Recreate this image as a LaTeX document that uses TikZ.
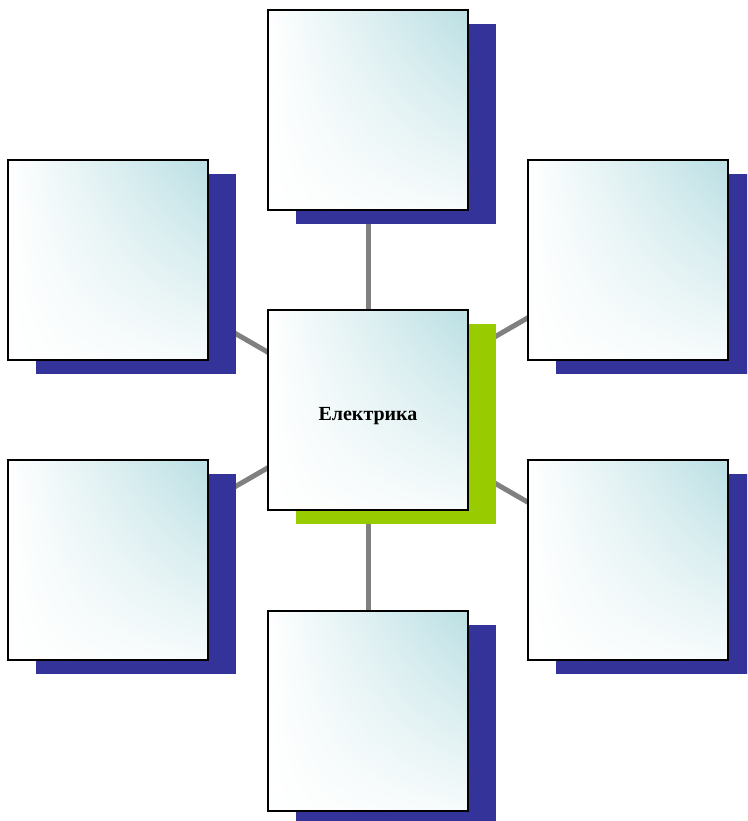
\documentclass[tikz,border=0pt]{standalone}
\usepackage{fontspec}
\setmainfont{Liberation Serif}
\usetikzlibrary{shadows,shadings}
\definecolor{boxteal}{RGB}{186,223,227}
\definecolor{navyshadow}{RGB}{51,51,153}
\definecolor{limeshadow}{RGB}{153,204,0}
\definecolor{linkgray}{RGB}{128,128,128}
\pgfdeclarelayer{background}
\pgfsetlayers{background,main}
\tikzset{
  panel/.style={draw=black, line width=2pt, minimum width=200pt, minimum height=200pt,
    inner sep=0pt, shade, upper right=boxteal, upper left=white,
    lower left=white, lower right=white!88!boxteal},
  navybox/.style={panel, drop shadow={shadow xshift=28pt, shadow yshift=-14pt,
    fill=navyshadow, opacity=1}},
  limebox/.style={panel, drop shadow={shadow xshift=28pt, shadow yshift=-14pt,
    fill=limeshadow, opacity=1}},
  link/.style={draw=linkgray, line width=5pt}
}
\begin{document}
\begin{tikzpicture}[x=1pt, y=-1pt]
  \clip (0,0) rectangle (747,821);
  \useasboundingbox (0,0) rectangle (747,821);
  % outer boxes
  \node[navybox] (t)  at (368,110) {};
  \node[navybox] (tl) at (108,260) {};
  \node[navybox] (tr) at (628,260) {};
  \node[navybox] (bl) at (108,560) {};
  \node[navybox] (br) at (628,560) {};
  \node[navybox] (b)  at (368,711) {};
  % central box
  \node[limebox] (c)  at (368,410) {};
  \node (lbl) at (368,416) {\bfseries\fontsize{20}{24}\selectfont Електрика};
  % connectors behind everything
  \begin{pgfonlayer}{background}
    \foreach \n in {t,tl,tr,bl,br,b}
      \draw[link] (c.center) -- (\n.center);
  \end{pgfonlayer}
\end{tikzpicture}
\end{document}
